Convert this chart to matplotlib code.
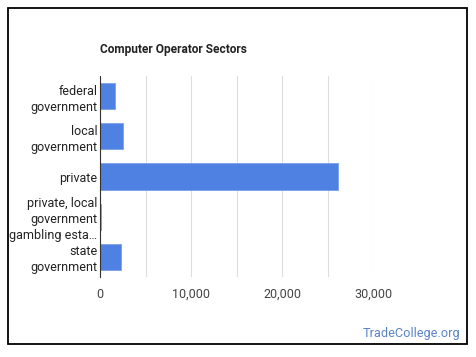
import matplotlib.pyplot as plt
import matplotlib.patches as patches
from matplotlib.ticker import FuncFormatter, MultipleLocator

plt.rcParams['font.family'] = ['Roboto', 'DejaVu Sans']

categories = ["federal\ngovernment", "local\ngovernment", "private",
              "private, local\ngovernment\ngambling esta\u2026", "state\ngovernment"]
values = [1650, 2550, 26200, 100, 2300]
x_ticks = [0, 10000, 20000, 30000]

W, H = 476, 357
fig = plt.figure(figsize=(W / 100, H / 100), dpi=100)

# outer frame
fig.add_artist(patches.Rectangle((8 / W, 1 - 344 / H), 459 / W, 336 / H,
                                 transform=fig.transFigure, fill=False,
                                 edgecolor="black", linewidth=1.3))

ax = fig.add_axes([100 / W, 1 - 277 / H, 273 / W, 201 / H])
y = list(range(len(categories)))
ax.barh(y, values, height=0.65, color="#4f81e2", edgecolor="#7aa0ea", linewidth=0.6, zorder=3)

ax.set_xlim(0, 30000)
ax.set_ylim(len(categories) - 0.5, -0.5)
ax.set_yticks(y)
ax.set_yticklabels(categories, fontsize=9, color="#222222", linespacing=1.3)
ax.set_xticks(x_ticks)
ax.xaxis.set_minor_locator(MultipleLocator(5000))
ax.xaxis.set_major_formatter(FuncFormatter(lambda v, p: f"{int(v):,}"))
ax.tick_params(axis="x", labelsize=9, labelcolor="#444444", length=0, pad=8)
ax.tick_params(axis="y", length=0, pad=2)
ax.tick_params(which="minor", length=0)
ax.grid(axis="x", which="both", color="#dddddd", linewidth=0.8, zorder=0)
for s in ["top", "right", "bottom"]:
    ax.spines[s].set_visible(False)
ax.spines["left"].set_color("#333333")
ax.spines["left"].set_zorder(4)

fig.text(100 / W, 1 - 50 / H, "Computer Operator Sectors", fontsize=8.6,
         fontweight="bold", color="#222222", va="center", ha="left")
fig.text(460 / W, 1 - 334 / H, "TradeCollege.org", fontsize=9.2,
         color="#5b84c8", va="center", ha="right")

fig.savefig("out.png", dpi=100)
